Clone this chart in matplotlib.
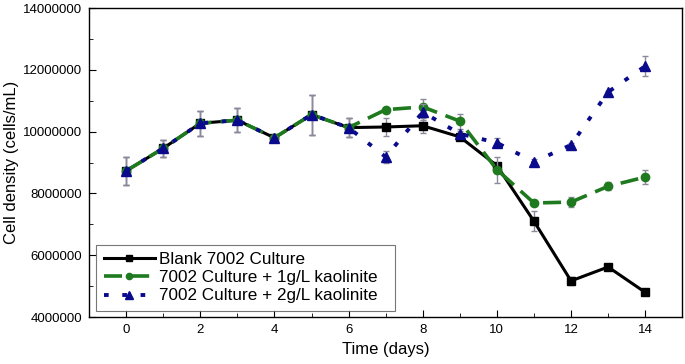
import matplotlib
matplotlib.use("Agg")
import matplotlib.pyplot as plt
from matplotlib.ticker import MultipleLocator

plt.rcParams["font.family"] = ["Liberation Sans", "DejaVu Sans"]

days = [0, 1, 2, 3, 4, 5, 6, 7, 8, 9, 10, 11, 12, 13, 14]

blank = [8.73e6, 9.46e6, 10.27e6, 10.37e6, 9.80e6, 10.55e6, 10.13e6, 10.15e6,
         10.19e6, 9.83e6, 8.90e6, 7.10e6, 5.17e6, 5.62e6, 4.80e6]
blank_err = [0.45e6, 0.28e6, 0.40e6, 0.38e6, 0.05e6, 0.65e6, 0.32e6, 0.28e6,
             0.25e6, 0.08e6, 0.10e6, 0.32e6, 0.12e6, 0.05e6, 0.05e6]

kao1 = [8.73e6, 9.46e6, 10.27e6, 10.37e6, 9.80e6, 10.55e6, 10.13e6, 10.71e6,
        10.80e6, 10.34e6, 8.77e6, 7.69e6, 7.72e6, 8.23e6, 8.53e6]
kao1_err = [0.45e6, 0.28e6, 0.40e6, 0.38e6, 0.05e6, 0.65e6, 0.32e6, 0.05e6,
            0.26e6, 0.24e6, 0.42e6, 0.05e6, 0.17e6, 0.13e6, 0.24e6]

kao2 = [8.73e6, 9.46e6, 10.27e6, 10.37e6, 9.80e6, 10.55e6, 10.13e6, 9.18e6,
        10.63e6, 9.93e6, 9.64e6, 9.02e6, 9.57e6, 11.28e6, 12.12e6]
kao2_err = [0.45e6, 0.28e6, 0.40e6, 0.38e6, 0.05e6, 0.65e6, 0.32e6, 0.20e6,
            0.25e6, 0.10e6, 0.14e6, 0.10e6, 0.05e6, 0.05e6, 0.33e6]

labels = ["Blank 7002 Culture", "7002 Culture + 1g/L kaolinite",
          "7002 Culture + 2g/L kaolinite"]

fig = plt.figure(figsize=(6.85, 3.64), dpi=100)
ax = fig.add_axes([0.130, 0.129, 0.866, 0.849])

err_kw = dict(ecolor="#8a8a9a", elinewidth=1.0, capsize=2.5, capthick=1.0)

eb0 = ax.errorbar(days, blank, yerr=blank_err, color="black", linestyle="-",
                  linewidth=2.2, marker="s", markersize=5.5, zorder=3, **err_kw)
eb1 = ax.errorbar(days, kao1, yerr=kao1_err, color="#1f7a1f",
                  linestyle=(0, (5, 2.5)), linewidth=2.6, marker="o",
                  markersize=6, zorder=4, **err_kw)
eb2 = ax.errorbar(days, kao2, yerr=kao2_err, color="#0a0a8c",
                  linestyle=(0, (1.2, 3.5)), linewidth=2.8, marker="^",
                  markersize=7, zorder=5, **err_kw)

ax.set_xlim(-1, 15)
ax.set_ylim(4e6, 14e6)
ax.xaxis.set_major_locator(MultipleLocator(2))
ax.xaxis.set_minor_locator(MultipleLocator(1))
ax.yaxis.set_major_locator(MultipleLocator(2e6))
ax.yaxis.set_minor_locator(MultipleLocator(1e6))
ax.ticklabel_format(axis="y", style="plain", useOffset=False)
ax.tick_params(which="both", direction="in", labelsize=9.5, pad=5)
ax.tick_params(which="major", length=5)
ax.tick_params(which="minor", length=3)
for s in ax.spines.values():
    s.set_linewidth(1.0)

ax.set_xlabel("Time (days)", fontsize=12, labelpad=4)
ax.set_ylabel("Cell density (cells/mL)", fontsize=12, labelpad=3)

leg = ax.legend([eb0[0], eb1[0], eb2[0]], labels, loc="lower left",
                bbox_to_anchor=(0.012, 0.019, 0.504, 0.2), mode="expand",
                fontsize=12.3, markerscale=0.75, borderaxespad=0,
                frameon=True, fancybox=False, edgecolor="#555555",
                handlelength=3.0, handletextpad=0.2, borderpad=0.45,
                labelspacing=0.18)
leg.get_frame().set_linewidth(0.8)

fig.savefig("out.png", dpi=100)
